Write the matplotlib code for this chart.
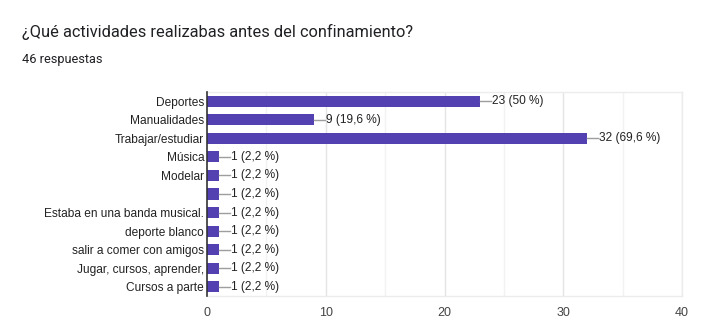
import matplotlib.pyplot as plt

# Data
categories = [
    "Deportes", "Manualidades", "Trabajar/estudiar", "Música", "Modelar", "",
    "Estaba en una banda musical.", "deporte blanco", "salir a comer con amigos",
    "Jugar, cursos, aprender,", "Cursos a parte",
]
counts = [23, 9, 32, 1, 1, 1, 1, 1, 1, 1, 1]
percents = ["50", "19,6", "69,6", "2,2", "2,2", "2,2", "2,2", "2,2", "2,2", "2,2", "2,2"]
x_ticks = [0, 10, 20, 30, 40]
minor_ticks = [5, 15, 25, 35]
total_responses = 46

TITLE = "¿Qué actividades realizabas antes del confinamiento?"
BAR_COLOR = "#5340b1"

fig = plt.figure(figsize=(7.05, 3.29), dpi=100, facecolor="white")
ax = fig.add_axes([207 / 705, 1 - 296 / 329, 475 / 705, 204 / 329])

ypos = list(range(len(categories)))
ax.barh(ypos, counts, height=0.6, color=BAR_COLOR, zorder=3)

# value labels with the little leader line
for y, v, p in zip(ypos, counts, percents):
    ax.plot([v, v + 0.95], [y, y], color="#9e9e9e", lw=1, zorder=3)
    ax.text(v + 1.0, y, f"{v} ({p} %)", va="center", ha="left",
            fontsize=8.6, color="#222222", family="Liberation Sans")

ax.set_xlim(0, 40)
ax.set_ylim(len(categories) - 0.5, -0.5)
ax.set_yticks(ypos)
ax.set_yticklabels(categories, fontsize=8.6, color="#222222", family="Liberation Sans")
ax.set_xticks(x_ticks)
ax.set_xticklabels([str(t) for t in x_ticks], fontsize=9, color="#444444",
                   family="Liberation Sans")
ax.tick_params(axis="both", length=0)
ax.tick_params(axis="y", pad=2)
ax.tick_params(axis="x", pad=8)

for t in x_ticks[1:]:
    ax.axvline(t, color="#e4e4e4", lw=1, zorder=1)
for t in minor_ticks:
    ax.axvline(t, color="#f2f2f2", lw=1, zorder=1)

ax.spines["left"].set_color("#333333")
ax.spines["left"].set_linewidth(1.2)
ax.spines["left"].set_zorder(4)
for side in ["top", "right", "bottom"]:
    ax.spines[side].set_color("#ececec")
    ax.spines[side].set_linewidth(1)

fig.text(22 / 705, 1 - 32 / 329, TITLE, fontsize=11.75, color="#202124",
         family="Roboto", va="center", ha="left")
fig.text(22 / 705, 1 - 59 / 329, f"{total_responses} respuestas", fontsize=9.2,
         color="#202124", family="Roboto", va="center", ha="left")

fig.savefig("out.png", dpi=100, facecolor="white")
